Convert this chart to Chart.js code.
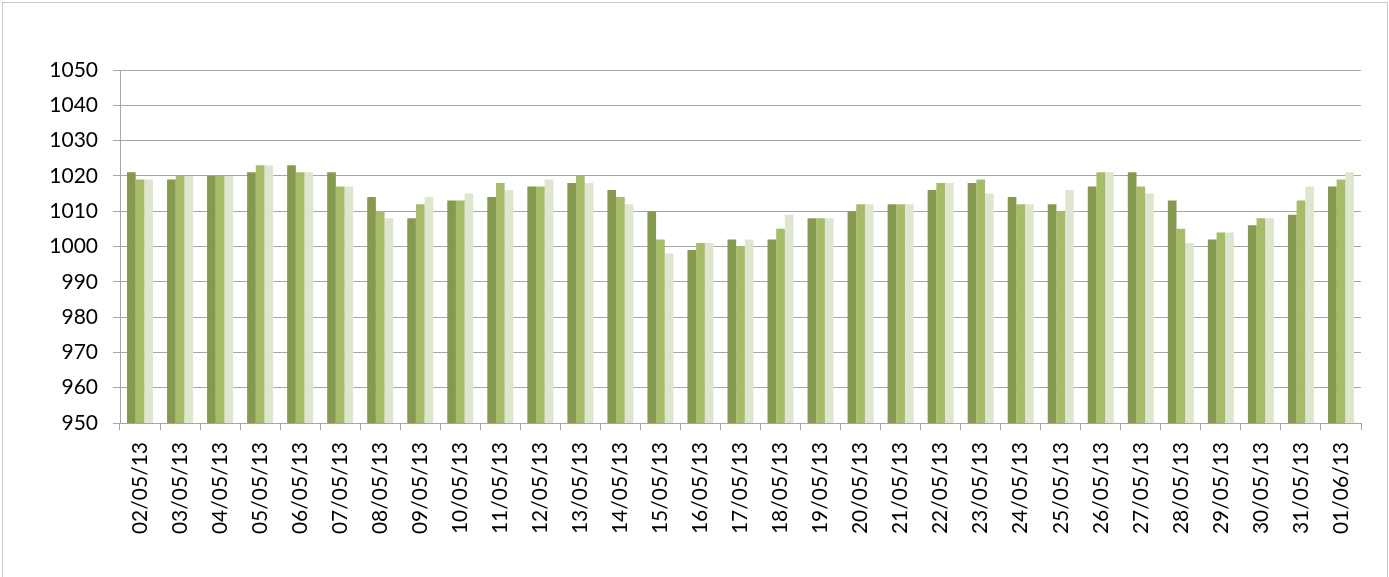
<!DOCTYPE html>
<html>
<head>
<meta charset="utf-8">
<script src="https://cdn.jsdelivr.net/npm/chart.js@4"></script>
<style>
  body { margin: 0; background: #fff; }
  #frame {
    position: absolute; left: 2px; top: 2px;
    width: 1384px; height: 580px;
    border: 1px solid #c8c8c8;
  }
  canvas { position: absolute; left: 0; top: 0; }
</style>
</head>
<body>
<div id="frame"></div>
<canvas id="myCanvas" width="1389" height="577"></canvas>
<script>
'use strict';

//chart data

let dates = ['02/05/13', '03/05/13', '04/05/13', '05/05/13', '06/05/13', '07/05/13', '08/05/13',
  '09/05/13', '10/05/13', '11/05/13', '12/05/13', '13/05/13', '14/05/13', '15/05/13', '16/05/13',
  '17/05/13', '18/05/13', '19/05/13', '20/05/13', '21/05/13', '22/05/13', '23/05/13', '24/05/13',
  '25/05/13', '26/05/13', '27/05/13', '28/05/13', '29/05/13', '30/05/13', '31/05/13', '01/06/13'];

let pressure1 = [1021, 1019, 1020, 1021, 1023, 1021, 1014, 1008, 1013, 1014, 1017, 1018, 1016, 1010, 999,
  1002, 1002, 1008, 1010, 1012, 1016, 1018, 1014, 1012, 1017, 1021, 1013, 1002, 1006, 1009, 1017];
let pressure2 = [1019, 1020, 1020, 1023, 1021, 1017, 1010, 1012, 1013, 1018, 1017, 1020, 1014, 1002, 1001,
  1000, 1005, 1008, 1012, 1012, 1018, 1019, 1012, 1010, 1021, 1017, 1005, 1004, 1008, 1013, 1019];
let pressure3 = [1019, 1020, 1020, 1023, 1021, 1017, 1008, 1014, 1015, 1016, 1019, 1018, 1012, 998, 1001,
  1002, 1009, 1008, 1012, 1012, 1018, 1015, 1012, 1016, 1021, 1015, 1001, 1004, 1008, 1017, 1021];

let yTicks = [950, 960, 970, 980, 990, 1000, 1010, 1020, 1030, 1040, 1050];

const gridColor = '#a6a6a6';
const labelFont = { family: 'Lato', size: 21 };

function makeSet(values, color) {
  return {
    data: values,
    backgroundColor: color,
    borderWidth: 0,
    barPercentage: 1,
    categoryPercentage: 0.65
  };
}

const data = {
  labels: dates,
  datasets: [
    makeSet(pressure1, '#86994f'),
    makeSet(pressure2, '#a6bc68'),
    makeSet(pressure3, '#dee6cf')
  ]
};

const config = {
  type: 'bar',
  data: data,
  options: {
    responsive: false,
    animation: false,
    layout: {
      padding: { top: 70, right: 28, bottom: 0, left: 0 }
    },
    plugins: {
      legend: { display: false },
      tooltip: { enabled: false }
    },
    scales: {
      x: {
        afterFit: function (scale) { scale.height = 154; },
        grid: {
          offset: true,
          drawOnChartArea: false,
          drawTicks: true,
          tickLength: 7,
          color: gridColor
        },
        border: { color: gridColor },
        ticks: {
          color: '#000',
          font: labelFont,
          minRotation: 90,
          maxRotation: 90,
          padding: 12,
          autoSkip: false
        }
      },
      y: {
        min: 950,
        max: 1050,
        afterFit: function (scale) { scale.width = 120; },
        afterBuildTicks: function (scale) {
          scale.ticks = yTicks.map(function (v) { return { value: v }; });
        },
        grid: {
          color: gridColor,
          tickLength: 7
        },
        border: { color: gridColor },
        ticks: {
          color: '#000',
          font: labelFont,
          padding: 15,
          // plain numbers, no thousands separator
          callback: function (value) { return String(value); }
        }
      }
    }
  }
};

const chart = document.getElementById('myCanvas');
const myChart = new Chart(chart, config);
</script>
</body>
</html>
